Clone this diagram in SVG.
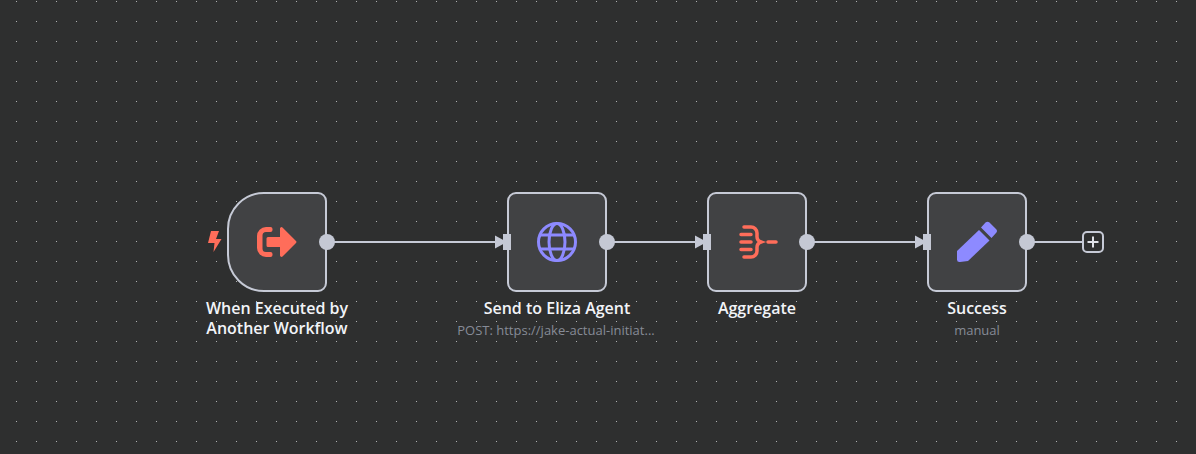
<svg xmlns="http://www.w3.org/2000/svg" width="1196" height="454" viewBox="0 0 1196 454">
<style>
.box{fill:#414244;stroke:#c6cad6;stroke-width:2}
.port{fill:#c4c8d4}
.edge{fill:none;stroke:#c6cad6;stroke-width:2}
.title{font-family:"Open Sans",sans-serif;font-weight:600;font-size:16px;fill:#f2f4f8;text-anchor:middle}
.sub{font-family:"Open Sans",sans-serif;font-size:13px;fill:#868b96;text-anchor:middle}
.red{fill:#ff6d5a}
.redl{fill:none;stroke:#ff6d5a;stroke-width:3.500;stroke-linecap:round}
.vio{fill:none;stroke:#8d8aff;stroke-width:3}
</style>
<defs>
<pattern id="dots" x="16" y="1" width="20" height="20" patternUnits="userSpaceOnUse"><rect width="1" height="1" fill="#b0b2b4"/></pattern>
<g id="inport"><path class="port" d="M-8 -6.500L4 0L-8 6.500Z"/></g>
</defs>
<rect width="1196" height="454" fill="#2e2f2f"/>
<rect width="1196" height="454" fill="url(#dots)"/>
<g id="connectors">
<path class="edge" d="M327 242H497"/>
<path class="edge" d="M607 242H697"/>
<path class="edge" d="M807 242H917"/>
<path class="edge" d="M1027 242H1082"/>
</g>
<g id="node-trigger">
<path class="box" d="M264 193H318a8 8 0 0 1 8 8V283a8 8 0 0 1 -8 8H264a36 36 0 0 1 -36 -36V229a36 36 0 0 1 36 -36Z"/>
<path class="red" d="M211 231H219L216 239H221.500L213.500 252L214.500 243H208Z"/>
<path class="red" d="M266 227H270.500a2 2 0 0 1 2 2V230a2 2 0 0 1 -2 2H266a3.500 3.500 0 0 0 -3.500 3.500V248.500a3.500 3.500 0 0 0 3.500 3.500H270.500a2 2 0 0 1 2 2V255a2 2 0 0 1 -2 2H266a9 9 0 0 1 -9 -9V236a9 9 0 0 1 9 -9Z"/>
<path class="red" d="M268 237H280V228.500a1.500 1.500 0 0 1 2.500 -1L296 241a1.500 1.500 0 0 1 0 2L282.500 256.500a1.500 1.500 0 0 1 -2.500 -1V247H268a1.500 1.500 0 0 1 -1.500 -1.500V238.500a1.500 1.500 0 0 1 1.500 -1.500Z"/>
<circle class="port" cx="327" cy="242" r="8"/>
<text class="title" x="277" y="314">When Executed by</text>
<text class="title" x="277" y="334">Another Workflow</text>
</g>
<g id="node-http">
<use href="#inport" x="503" y="242"/>
<rect class="box" x="508" y="193" width="98" height="98" rx="8"/>
<rect class="port" x="503" y="234" width="8" height="16"/>
<circle class="vio" cx="557" cy="242" r="18.500"/>
<ellipse class="vio" cx="557" cy="242" rx="8" ry="18.500"/>
<path class="vio" d="M540 235H574M540 249H574"/>
<circle class="port" cx="607" cy="242" r="8"/>
<text class="title" x="557" y="314">Send to Eliza Agent</text>
<text class="sub" x="556" y="335">POST: https://jake-actual-initiat...</text>
</g>
<g id="node-aggregate">
<use href="#inport" x="703" y="242"/>
<rect class="box" x="708" y="193" width="98" height="98" rx="8"/>
<rect class="port" x="703" y="234" width="8" height="16"/>
<path class="redl" d="M744 227H751a6 6 0 0 1 6 6V236a6 6 0 0 0 4 6a6 6 0 0 0 -4 6V251a6 6 0 0 1 -6 6H744"/>
<path class="redl" d="M741 234.500H751M741 242H751M741 249.500H751M768 242H776"/>
<circle class="port" cx="807" cy="242" r="8"/>
<text class="title" x="757" y="314">Aggregate</text>
</g>
<g id="node-success">
<use href="#inport" x="923" y="242"/>
<rect class="box" x="928" y="193" width="98" height="98" rx="8"/>
<rect class="port" x="923" y="234" width="8" height="16"/>
<path fill="#8d8aff" d="M979 230L989.500 240.500L968 261L960 262Q957 262.300 957 259.500V251Z"/>
<path fill="#8d8aff" d="M985.500 222.500Q987.500 220.800 989.500 222.500L996 229Q998 231 996 233L991.500 238L981 227.500Z"/>
<circle class="port" cx="1027" cy="242" r="8"/>
<text class="title" x="977" y="314">Success</text>
<text class="sub" x="977" y="335">manual</text>
</g>
<g id="add-button">
<rect x="1083" y="232" width="20" height="20" rx="4" fill="#2e2f2f" stroke="#c6cad6" stroke-width="2"/>
<path d="M1093 236.500V247.500M1087.500 242H1098.500" stroke="#e0e2e8" stroke-width="2" fill="none"/>
</g>
</svg>
